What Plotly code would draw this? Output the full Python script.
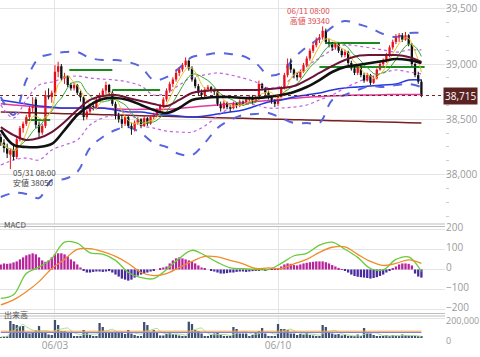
import plotly.graph_objects as go
import pandas as pd

# ---------------- data ----------------
opens = [38340,38290,38240,38180,38220,38160,38320,38420,38460,38520,38600,38680,38450,38380,38440,38720,38700,
         38740,38930,38980,38870,38890,38810,38780,38810,38740,38700,38520,38570,38620,38600,
         38680,38720,38760,38810,38740,38640,38530,38500,38460,38520,38440,38410,38470,38500,
         38440,38510,38460,38520,38540,38580,38620,38680,38760,38820,38860,38920,38950,38990,
         39030,38960,38860,38800,38740,38720,38770,38790,38760,38750,38640,38600,38650,38610,
         38600,38640,38620,38660,38640,38680,38700,38660,38700,38820,38780,38740,38700,38660,
         38640,38700,38780,38900,39000,38950,38900,38880,38930,38990,39050,39120,39170,39220,
         39240,39300,39200,39180,39150,39180,39120,39080,39110,39010,38960,38920,38980,
         38900,38850,38900,38830,38870,38950,39000,39030,39080,39150,39200,39240,39260,39220,
         39260,39180,39000,38900,38840]
highs = [38370,38320,38280,38240,38280,38340,38440,38480,38540,38620,38700,38700,38480,38460,38760,38780,38760,
         38990,39020,39000,38920,38900,38830,38830,38820,38760,38710,38590,38640,38660,38700,
         38740,38780,38840,38820,38760,38660,38560,38540,38540,38530,38470,38490,38520,38510,
         38530,38520,38540,38560,38600,38640,38700,38780,38840,38880,38940,38970,39010,39060,
         39040,38980,38880,38820,38770,38790,38810,38800,38780,38760,38660,38670,38660,38630,
         38660,38650,38680,38670,38700,38720,38710,38720,38850,38830,38790,38760,38710,38680,
         38720,38800,38920,39050,39050,38960,38920,38950,39010,39070,39140,39190,39240,39270,
         39340,39320,39230,39200,39200,39190,39140,39130,39120,39030,38980,39000,38990,
         38920,38920,38910,38890,38960,39020,39050,39100,39170,39220,39270,39280,39280,39290,
         39270,39190,39010,38930,38860]
lows = [38260,38200,38150,38050,38130,38140,38300,38380,38440,38500,38560,38420,38340,38360,38420,38680,38650,
        38720,38880,38850,38820,38790,38760,38760,38720,38660,38490,38500,38550,38580,38590,
        38660,38700,38730,38720,38620,38500,38470,38420,38440,38420,38360,38390,38450,38420,
        38430,38440,38450,38500,38520,38560,38600,38660,38740,38790,38840,38890,38930,38970,
        38940,38840,38780,38720,38690,38700,38750,38740,38720,38620,38570,38590,38590,38570,
        38590,38600,38610,38620,38630,38660,38640,38650,38690,38760,38720,38680,38640,38610,
        38620,38690,38770,38880,38920,38870,38850,38870,38920,38970,39030,39100,39150,39190,
        39220,39180,39150,39120,39130,39100,39060,39060,38990,38940,38900,38900,38880,
        38830,38840,38810,38820,38860,38940,38980,39010,39060,39130,39180,39200,39200,39210,
        39160,38980,38880,38820,38700]
closes = [38290,38240,38190,38220,38160,38320,38420,38460,38520,38600,38620,38450,38380,38440,38720,38700,38740,
          38930,38980,38870,38890,38810,38780,38810,38740,38700,38520,38570,38620,38600,38680,
          38720,38760,38810,38740,38640,38530,38500,38460,38520,38440,38410,38470,38500,38440,
          38510,38460,38520,38540,38580,38620,38680,38760,38820,38860,38920,38950,38990,39030,
          38960,38860,38800,38740,38720,38770,38790,38760,38750,38640,38600,38650,38610,38600,
          38640,38620,38660,38640,38680,38700,38660,38700,38820,38780,38740,38700,38660,38640,
          38700,38780,38900,39000,38950,38900,38880,38930,38990,39050,39120,39170,39220,39240,
          39300,39200,39180,39150,39180,39120,39080,39110,39010,38960,38920,38980,38900,
          38850,38900,38830,38870,38950,39000,39030,39080,39150,39200,39240,39260,39220,39260,
          39180,39000,38900,38840,38715]

volume = [10000,20000,15000,170000,140000,130000,120000,120000,50000,45000,60000,75000,120000,55000,55000,35000,30000,
          180000,130000,70000,70000,50000,50000,20000,20000,20000,80000,50000,30000,20000,15000,
          150000,110000,60000,60000,60000,60000,60000,50000,40000,80000,45000,30000,20000,15000,
          160000,130000,60000,80000,50000,25000,25000,40000,60000,40000,35000,25000,20000,20000,
          163000,140000,80000,70000,45000,20000,20000,30000,45000,50000,30000,20000,15000,12000,
          110000,90000,45000,45000,45000,20000,30000,50000,70000,100000,45000,20000,15000,12000,
          140000,90000,90000,80000,45000,45000,30000,40000,35000,60000,30000,25000,15000,15000,
          130000,110000,60000,45000,35000,40000,25000,30000,15000,15000,13000,35000,20000,
          100000,60000,45000,30000,20000,13000,20000,30000,20000,30000,20000,13000,35000,30000,
          25000,20000,15000,13000,12000]

macd_hist = [25,30,28,30,35,40,50,60,70,75,80,75,60,45,38,45,60,
             75,80,80,75,65,50,40,25,10,-5,-15,-15,-12,-10,
             -10,-12,-10,-8,-15,-25,-35,-45,-50,-55,-50,-40,-30,-25,
             -20,-15,-10,-5,0,5,10,15,30,45,55,60,55,50,
             45,40,30,20,10,5,0,-5,-10,-15,-20,-20,-18,-15,
             -15,-12,-10,-10,-12,-10,-8,-5,-3,-2,-3,-2,-1,2,
             5,15,25,30,28,22,20,25,30,33,36,38,40,40,
             40,36,30,22,15,8,2,-5,-15,-25,-32,-36,-38,
             -40,-42,-45,-42,-38,-32,-25,-15,-5,5,15,25,30,30,
             28,20,-20,-35,-40]

# indicator lines read at every 4th bar (bar index 0, 4, 8, ... 132)
bb2_upper = [38702,38539,38855,39054,39090,39108,39108,39054,39036,39036,39018,38973,38855,38882,38964,39063,39081,
             39099,39090,39072,39009,38901,38919,39054,39154,39235,39334,39389,39362,39325,39271,39244,39280,39280]
bb2_lower = [37798,37834,37825,37789,37951,37960,38024,38241,38340,38403,38430,38376,38286,38250,38186,38177,38286,
             38421,38494,38539,38548,38557,38512,38467,38467,38467,38675,38720,38765,38801,38792,38810,38819,38792]
bb1_upper = [38629,38512,38675,38810,38837,38873,38892,38873,38864,38855,38837,38801,38720,38738,38810,38882,38901,
             38919,38901,38873,38837,38783,38801,38892,38982,39054,39127,39172,39163,39145,39127,39108,39127,39127]
bb1_lower = [38087,38132,38150,38132,38223,38268,38313,38449,38512,38539,38566,38449,38421,38394,38385,38385,38440,
             38530,38602,38638,38629,38602,38602,38611,38629,38675,38720,38783,38837,38882,38919,38946,38928,38910]
ma_black = [38403,38268,38250,38250,38277,38403,38539,38629,38684,38693,38675,38629,38584,38557,38602,38675,38693,
            38702,38702,38693,38693,38702,38720,38747,38792,38855,38928,38973,38991,39009,39027,39045,39036,39009]
ma_maroon = [38430,38358,38313,38331,38385,38476,38584,38675,38711,38720,38693,38666,38638,38620,38675,38738,38756,
             38765,38765,38765,38765,38774,38783,38801,38855,38919,38982,39036,39072,39081,39081,39081,39063,39018]
ma_blue = [38675,38656,38638,38620,38611,38602,38602,38602,38602,38584,38566,38566,38548,38539,38530,38521,38530,
           38548,38566,38584,38620,38656,38675,38702,38720,38738,38765,38783,38792,38801,38810,38819,38855,38855]
ma_pink = [38640,38630,38620,38612,38605,38600,38600,38600,38600,38595,38590,38590,38590,38590,38600,38610,38620,
           38630,38640,38650,38660,38670,38680,38690,38700,38705,38710,38715,38720,38720,38722,38725,38725,38725]
ma_brown = [38566,38563,38560,38557,38554,38551,38548,38545,38542,38539,38536,38533,38530,38527,38524,38521,38518,
            38515,38512,38509,38506,38503,38500,38497,38494,38491,38488,38485,38482,38479,38476,38473,38470,38467]
macd_line = [-143,-125,-20,12,55,135,130,82,76,45,-15,-40,-45,0,55,95,70,
             35,8,4,0,0,30,68,80,120,135,100,60,5,-2,50,62,-10]
macd_signal = [-175,-150,-110,-60,5,50,100,103,88,65,30,-15,-30,-20,10,40,65,
               62,45,28,5,8,5,28,50,85,110,112,75,40,20,30,48,30]
vol_ma_orange = [68000]*34
vol_ma_purple = [55000]*34

# green horizontal level segments: start bar, end bar, level
lvl_start = [8, 21.5, 35, 100, 102]
lvl_end = [15.5, 35, 50, 133, 119]
lvl_value = [38494, 38946, 38765, 38973, 39190]

xtick_idx = [17, 87]
xtick_txt = ["06/03", "06/10"]

# ---------------- figure ----------------
n = len(closes)
idx = list(range(n))
sidx = list(range(0, n, 4))

fig = go.Figure()
UP = "#e8101a"
DN = "#111111"

body = [max(abs(c - o), 4) for o, c in zip(opens, closes)]
base = [min(o, c) for o, c in zip(opens, closes)]
ccol = [UP if c >= o else DN for o, c in zip(opens, closes)]

def line(y, color, width, dash="solid", shape="spline"):
    fig.add_trace(go.Scatter(x=sidx, y=y, mode="lines", line=dict(color=color, width=width, dash=dash, shape=shape),
                             xaxis="x", yaxis="y", hoverinfo="skip", showlegend=False))

line(ma_brown, "#7a1f1f", 1.5)
line(ma_pink, "#e23a9c", 1.5)
line(ma_blue, "#2437e0", 1.5)
line(bb1_upper, "#c060e0", 1.2, "dot")
line(bb1_lower, "#c060e0", 1.2, "dot")
line(bb2_upper, "#5865dc", 2, "dash")
line(bb2_lower, "#5865dc", 2, "dash")

sx, sy = [], []
for a, b, v in zip(lvl_start, lvl_end, lvl_value):
    sx += [a, b, None]
    sy += [v, v, None]
fig.add_trace(go.Scatter(x=sx, y=sy, mode="lines", line=dict(color="#1c8a1c", width=2),
                         xaxis="x", yaxis="y", hoverinfo="skip", showlegend=False))

for col in (UP, DN):
    wx, wy = [], []
    for i in idx:
        if ccol[i] == col:
            wx += [i, i, None]
            wy += [lows[i], highs[i], None]
    fig.add_trace(go.Scatter(x=wx, y=wy, mode="lines", line=dict(color=col, width=1),
                             xaxis="x", yaxis="y", hoverinfo="skip", showlegend=False))
fig.add_trace(go.Bar(x=idx, y=body, base=base, marker=dict(color=ccol, line=dict(width=0)), width=0.72,
                     xaxis="x", yaxis="y", showlegend=False))

cs = pd.Series(closes)
fig.add_trace(go.Scatter(x=idx, y=cs.rolling(9, min_periods=1).mean(), mode="lines",
                         line=dict(color="#2eaa2e", width=1, shape="spline"), xaxis="x", yaxis="y", showlegend=False))
fig.add_trace(go.Scatter(x=idx, y=cs.rolling(5, min_periods=1).mean(), mode="lines",
                         line=dict(color="#e6c229", width=1, shape="spline"), xaxis="x", yaxis="y", showlegend=False))
line(ma_maroon, "#6e1236", 2)
line(ma_black, "#111111", 2.6)

hcol = ["#b8249b" if v >= 0 else "#4a2aa0" for v in macd_hist]
fig.add_trace(go.Bar(x=idx, y=macd_hist, marker=dict(color=hcol, line=dict(width=0)), width=0.72,
                     xaxis="x2", yaxis="y2", showlegend=False))
fig.add_trace(go.Scatter(x=sidx, y=macd_line, mode="lines", line=dict(color="#6acb3a", width=1.3, shape="spline"),
                         xaxis="x2", yaxis="y2", showlegend=False))
fig.add_trace(go.Scatter(x=sidx, y=macd_signal, mode="lines", line=dict(color="#f08a2a", width=1.3, shape="spline"),
                         xaxis="x2", yaxis="y2", showlegend=False))

fig.add_trace(go.Bar(x=idx, y=volume, marker=dict(color="#3f5170", line=dict(width=0)), width=0.72,
                     xaxis="x3", yaxis="y3", showlegend=False))
vs = pd.Series(volume)
fig.add_trace(go.Scatter(x=idx, y=vs.rolling(5, min_periods=1).mean(), mode="lines",
                         line=dict(color="#a8e08a", width=1, shape="spline"), xaxis="x3", yaxis="y3", showlegend=False))
fig.add_trace(go.Scatter(x=sidx, y=vol_ma_purple, mode="lines", line=dict(color="#8a7fd6", width=1),
                         xaxis="x3", yaxis="y3", showlegend=False))
fig.add_trace(go.Scatter(x=sidx, y=vol_ma_orange, mode="lines", line=dict(color="#f0a050", width=1),
                         xaxis="x3", yaxis="y3", showlegend=False))

PH = 338.0
def py(p):
    return 1 - p / PH

FONT = "Noto Sans CJK JP, Open Sans, sans-serif"
TFONT = "Open Sans, Liberation Sans, sans-serif"
GRID = "#e4e4e4"
xr = [-0.25, 139.4]
common_x = dict(range=xr, showgrid=True, gridcolor=GRID, tickvals=xtick_idx, zeroline=False, showline=False,
                automargin=False)
tf = dict(size=10, color="#9a9a9a", family=TFONT)
tf9 = dict(size=9, color="#9a9a9a", family=TFONT)
fig.update_layout(
    width=480, height=357, margin=dict(l=0, r=35, t=0, b=19, autoexpand=False),
    paper_bgcolor="white", plot_bgcolor="white", barmode="overlay", showlegend=False,
    font=dict(family=FONT, size=10, color="#999999"),
    xaxis=dict(common_x, anchor="y", showticklabels=False, matches="x3"),
    xaxis2=dict(common_x, anchor="y2", showticklabels=False, matches="x3"),
    xaxis3=dict(common_x, anchor="y3", ticktext=xtick_txt, showticklabels=True, tickfont=tf),
    yaxis=dict(domain=[py(224), 1], range=[37553.6, 39578.6], side="right", tickvals=[38000, 38500, 39000, 39500],
               tickformat=",", gridcolor=GRID, zeroline=False, showline=False, ticks="", automargin=False,
               minor=dict(dtick=125, ticks="outside", ticklen=3, tickcolor="#cccccc", showgrid=False),
               tickfont=tf),
    yaxis2=dict(domain=[py(313), py(226)], range=[-215, 215], side="right", tickvals=[-200, -100, 0, 100, 200],
                gridcolor=GRID, zeroline=False, showline=False, tickfont=tf, automargin=False, ticklabelshift=-2),
    yaxis3=dict(domain=[0, py(316)], range=[0, 220000], side="right", tickvals=[0, 200000], tickformat=",",
                gridcolor=GRID, zeroline=False, showline=False, tickfont=tf9, automargin=False, ticklabelshift=3),
)

shapes = []
for yy in (224, 226.5, 313.5, 316):
    shapes.append(dict(type="line", xref="paper", yref="paper", x0=0, x1=1, y0=py(yy), y1=py(yy),
                       line=dict(color="#bdbdbd", width=1)))
shapes.append(dict(type="line", xref="paper", yref="y", x0=0, x1=1, y0=closes[-1], y1=closes[-1],
                   line=dict(color="#7a1f1f", width=1, dash="dot")))
fig.update_layout(shapes=shapes)

hi_i = highs.index(max(highs))
lo_i = lows.index(min(lows))
af = dict(size=8, family=FONT)
ann = [
    dict(x=hi_i, y=max(highs), xref="x", yref="y", text="06/11 08:00<br>高値 39340", showarrow=False,
         xanchor="right", yanchor="middle", yshift=11, xshift=8, align="right", borderpad=0,
         font=dict(af, color="#e0474c")),
    dict(x=lo_i, y=min(lows), xref="x", yref="y", text="05/31 08:00<br>安値 38050", showarrow=False,
         xanchor="left", yanchor="middle", yshift=-8, xshift=2, align="left", borderpad=0,
         font=dict(af, color="#444444")),
    dict(x=1, y=closes[-1], xref="paper", yref="y", text="38,715", showarrow=False, xanchor="left", xshift=-2,
         bgcolor="#5b2222", font=dict(size=10, color="white", family=TFONT), borderpad=1),
    dict(x=0.004, y=py(232), xref="paper", yref="paper", text="MACD", showarrow=False, xanchor="left",
         font=dict(size=8, color="#555555", family=FONT)),
    dict(x=0.004, y=py(322), xref="paper", yref="paper", text="出来高", showarrow=False, xanchor="left",
         font=dict(size=8, color="#555555", family=FONT)),
]
fig.update_layout(annotations=ann)

fig.write_html("out.html", config={"displayModeBar": False},
               post_script="document.body.style.margin='0';document.body.style.overflow='hidden';")
